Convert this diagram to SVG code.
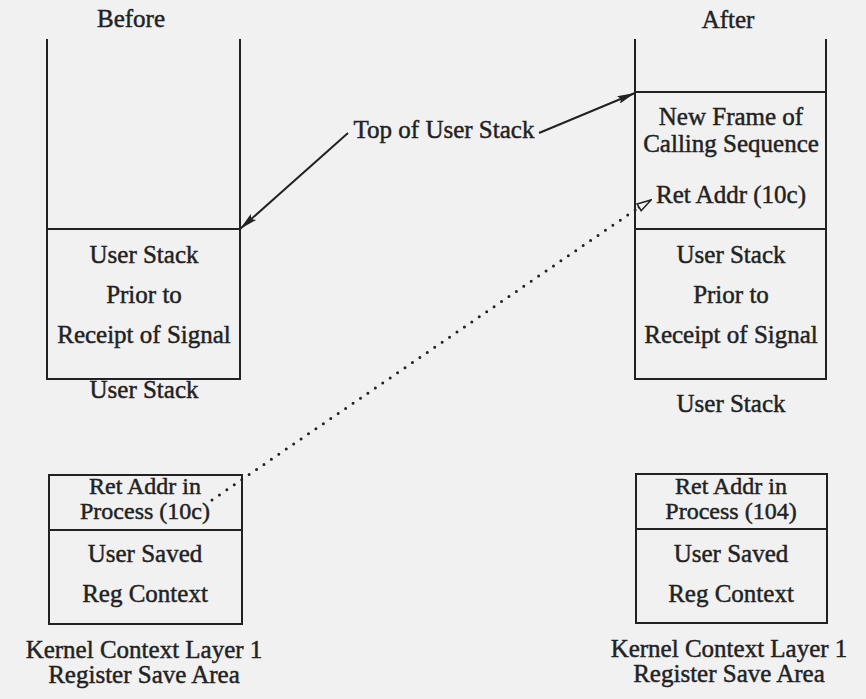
<svg xmlns="http://www.w3.org/2000/svg" width="866" height="699" viewBox="0 0 866 699">
<style>
text{font-family:"Liberation Serif","Times New Roman",serif;font-size:25px;fill:#222;stroke:#222;stroke-width:0.45;text-anchor:middle}
.tight{font-size:24px}
.box{fill:none;stroke:#222;stroke-width:2}
.arrow{fill:none;stroke:#222;stroke-width:2}
.dot{fill:none;stroke:#222;stroke-width:3;stroke-linecap:round;stroke-dasharray:0 9}
</style>
<defs>
<marker id="ah" viewBox="0 0 18 8" refX="18" refY="4" markerWidth="18" markerHeight="8" markerUnits="userSpaceOnUse" orient="auto">
<path d="M0,0 L18,4 L0,8 L3,4 Z" fill="#222"/>
</marker>
<marker id="oh" viewBox="0 0 16 10" refX="15" refY="5" markerWidth="16" markerHeight="10" markerUnits="userSpaceOnUse" orient="auto">
<path d="M1,1 L15,5 L1,9 Z" fill="#f1f1f1" stroke="#222" stroke-width="1.5"/>
</marker>
</defs>
<rect width="866" height="699" fill="#f1f1f1"/>

<g id="before-stack">
<text x="131" y="27">Before</text>
<path class="box" d="M47,39 V379 H240 V39 M47,229 H240"/>
<text x="144" y="263">User Stack</text>
<text x="144" y="303">Prior to</text>
<text x="144" y="343">Receipt of Signal</text>
<text x="144" y="398">User Stack</text>
</g>

<g id="before-kernel">
<rect class="box" x="49" y="475" width="193" height="149"/>
<line class="box" x1="49" y1="530" x2="242" y2="530"/>
<text class="tight" x="145" y="494">Ret Addr in</text>
<text class="tight" x="145" y="519">Process (10c)</text>
<text x="145" y="562">User Saved</text>
<text x="145" y="602">Reg Context</text>
<text x="144" y="658">Kernel Context Layer 1</text>
<text x="144" y="683">Register Save Area</text>
</g>

<g id="after-stack">
<text x="728" y="28">After</text>
<path class="box" d="M635,39 V379 H826 V39 M635,92 H826 M635,229 H826"/>
<text x="731" y="125">New Frame of</text>
<text x="731" y="152">Calling Sequence</text>
<text x="731" y="203">Ret Addr (10c)</text>
<text x="731" y="263">User Stack</text>
<text x="731" y="303">Prior to</text>
<text x="731" y="343">Receipt of Signal</text>
<text x="731" y="412">User Stack</text>
</g>

<g id="after-kernel">
<rect class="box" x="636" y="474" width="191" height="149"/>
<line class="box" x1="636" y1="529" x2="827" y2="529"/>
<text class="tight" x="731" y="494">Ret Addr in</text>
<text class="tight" x="731" y="519">Process (104)</text>
<text x="731" y="562">User Saved</text>
<text x="731" y="602">Reg Context</text>
<text x="729" y="657">Kernel Context Layer 1</text>
<text x="729" y="682">Register Save Area</text>
</g>

<g id="label-top">
<text x="444" y="138">Top of User Stack</text>
</g>

<g id="connectors">
<line class="arrow" x1="348" y1="133" x2="240" y2="229" marker-end="url(#ah)"/>
<line class="arrow" x1="539" y1="133" x2="635" y2="93" marker-end="url(#ah)"/>
<line class="dot" x1="212" y1="500" x2="638" y2="208"/>
<line class="arrow" x1="638" y1="208" x2="651" y2="200" stroke-width="1" marker-end="url(#oh)"/>
</g>
</svg>
